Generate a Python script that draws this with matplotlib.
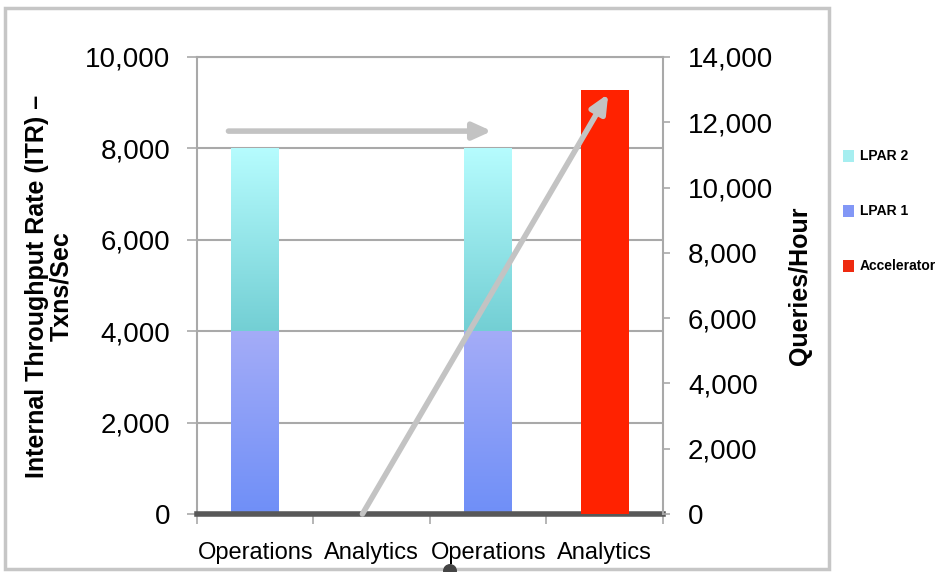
import numpy as np
import matplotlib
matplotlib.use("Agg")
import matplotlib.pyplot as plt
from matplotlib.colors import LinearSegmentedColormap
from matplotlib.patches import Rectangle, Ellipse
from matplotlib.ticker import FuncFormatter, FixedLocator

plt.rcParams['font.family'] = ['Liberation Sans', 'DejaVu Sans']

CATEGORIES = ["Operations", "Analytics", "Operations", "Analytics"]
LPAR1 = [4000, 0, 4000, 0]          # Txns/Sec, left axis
LPAR2 = [4000, 0, 4000, 0]          # Txns/Sec, left axis
ACCELERATOR = [0, 0, 0, 13000]      # Queries/Hour, right axis
SERIES = ["LPAR 2", "LPAR 1", "Accelerator"]
LEGEND_COLORS = ["#a6eef0", "#8297f6", "#ee2a10"]

GRID = "#a9a9a9"


def gradient_fill(ax, patch, c_top, c_bot):
    x, y = patch.get_x(), patch.get_y()
    w, h = patch.get_width(), patch.get_height()
    if h == 0:
        return
    grad = np.linspace(0, 1, 256)[:, None]
    cmap = LinearSegmentedColormap.from_list("g", [c_bot, c_top])
    im = ax.imshow(grad, extent=[x, x + w, y, y + h], origin="lower", cmap=cmap,
                   aspect="auto", zorder=patch.get_zorder() + 0.1, interpolation="bilinear")
    im.set_clip_path(patch)


fig = plt.figure(figsize=(9.37, 5.72), dpi=100)
ax = fig.add_axes([197 / 937, 58 / 572, 466 / 937, 457 / 572])
ax2 = ax.twinx()

xpos = np.arange(len(CATEGORIES))
bw = 0.41
b1 = ax.bar(xpos, LPAR1, bw, color="#8297f6", zorder=2, linewidth=0)
b2 = ax.bar(xpos, LPAR2, bw, bottom=LPAR1, color="#a6eef0", zorder=2, linewidth=0)
for p in b1:
    gradient_fill(ax, p, "#a4acf8", "#6f8ff7")
for p in b2:
    gradient_fill(ax, p, "#b6fcfe", "#73cfd4")
ax2.bar(xpos, ACCELERATOR, bw, color="#ff2200", zorder=2, linewidth=0)

ax.set_xlim(-0.5, len(CATEGORIES) - 0.5)
ax.set_ylim(0, 10000)
ax2.set_ylim(0, 14000)

fmt = FuncFormatter(lambda v, p: f"{int(v):,}")
ax.set_yticks(np.arange(0, 10001, 2000))
ax2.set_yticks(np.arange(0, 14001, 2000))
ax.yaxis.set_major_formatter(fmt)
ax2.yaxis.set_major_formatter(fmt)
ax.grid(axis="y", color=GRID, linewidth=1.5, zorder=0)
ax.set_axisbelow(True)

ax.tick_params(axis="y", direction="out", length=7, width=1.2, color=GRID,
               labelsize=20, pad=12)
ax2.tick_params(axis="y", direction="out", length=5, width=1.2, color=GRID,
                labelsize=20, pad=13)

ax.set_xticks(xpos)
ax.set_xticklabels(CATEGORIES)
ax.xaxis.set_minor_locator(FixedLocator(np.arange(-0.5, len(CATEGORIES), 1.0)))
ax.tick_params(axis="x", which="major", length=0, labelsize=17, pad=20)
ax.tick_params(axis="x", which="minor", direction="out", length=7, width=1.2, color=GRID)

for s in ["left", "top"]:
    ax.spines[s].set_color(GRID)
    ax.spines[s].set_linewidth(1.5)
ax.spines["right"].set_visible(False)
ax.spines["bottom"].set_color("#585858")
ax.spines["bottom"].set_linewidth(4)
ax.spines["bottom"].set_zorder(5)
for s in ["left", "top", "bottom"]:
    ax2.spines[s].set_visible(False)
ax2.spines["right"].set_color(GRID)
ax2.spines["right"].set_linewidth(1.5)

arrow_kw = dict(arrowstyle="-|>,head_width=0.5,head_length=1.1", color="#c3c3c3",
                lw=4, shrinkA=0, shrinkB=0)
ax2.annotate("", xy=(2.03, 11730), xytext=(-0.23, 11730), arrowprops=arrow_kw, zorder=6)
ax2.annotate("", xy=(3.03, 12870), xytext=(0.92, 0), arrowprops=arrow_kw, zorder=6)

fig.text(49 / 937, 0.5, "Internal Throughput Rate (ITR) –\nTxns/Sec", rotation=90,
         ha="center", va="center", multialignment="center", fontsize=18,
         fontweight="bold", linespacing=1.0)
fig.text(800 / 937, 0.5, "Queries/Hour", rotation=90, ha="center", va="center",
         fontsize=18, fontweight="bold")

# legend
for i, (name, col) in enumerate(zip(SERIES, LEGEND_COLORS)):
    yc = 1 - (156 + 55 * i) / 572
    fig.add_artist(Rectangle((843 / 937, yc - 6 / 572), 11 / 937, 12 / 572,
                             transform=fig.transFigure, color=col, lw=0))
    fig.text(860 / 937, yc, name, ha="left", va="center", fontsize=10, fontweight="bold")

# outer frame
fig.add_artist(Rectangle((5 / 937, 3 / 572), 824 / 937, 561 / 572, transform=fig.transFigure,
                         fill=False, edgecolor="#c6c6c6", lw=2.5))
fig.add_artist(Ellipse((450 / 937, 1 / 572), 14 / 937, 14 / 572, transform=fig.transFigure,
                       color="#444444", lw=0))

fig.savefig("out.png", dpi=100)
